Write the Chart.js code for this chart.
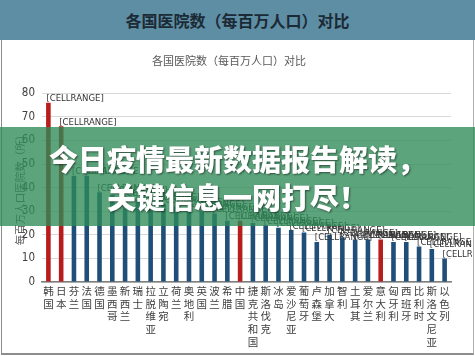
<!DOCTYPE html>
<html>
<head>
<meta charset="utf-8">
<script src="https://cdn.jsdelivr.net/npm/chart.js@4/dist/chart.umd.min.js"></script>
<style>
  html, body { margin: 0; padding: 0; background: #ffffff; }
  body { width: 475px; height: 356px; position: relative; overflow: hidden; }
  #header {
    position: absolute; left: 0; top: 0; width: 475px; height: 40px;
    background: #5e8ea4; color: #1b2a35;
    font: bold 16px "Noto Sans CJK SC", sans-serif;
    text-align: center; line-height: 40px;
  }
  #frame {
    position: absolute; left: 1px; top: 40px; width: 471px; height: 313px;
    border-left: 1px solid #8c8c8c; border-right: 1px solid #b0b0b0; border-bottom: 2px solid #8c8c8c;
  }
  #wrap { position: absolute; left: 3px; top: 40px; width: 469px; height: 312px; }
  #banner {
    position: absolute; left: 0; top: 127px; width: 475px; height: 99px;
    background: rgba(46, 139, 87, 0.78);
    color: #ffffff; text-align: center;
    font: 900 29px "Noto Sans CJK SC", sans-serif;
    line-height: 38px; padding-top: 12px; box-sizing: border-box;
    text-shadow: 1px 1px 2px rgba(0,0,0,0.5);
  }
</style>
</head>
<body>
<div id="header">各国医院数（每百万人口）对比</div>
<div id="frame"></div>
<div id="wrap"><canvas id="c" width="469" height="312"></canvas></div>
<div id="banner">今日疫情最新数据报告解读，<br>关键信息一网打尽！</div>
<script>
const chartTitle = '各国医院数（每百万人口）对比';
const yAxisTitle = '每百万人口医院数（所）';
const dataLabelText = '[CELLRANGE]';
const countries = ['韩国','日本','芬兰','法国','德国','墨西哥','新西兰','瑞士','拉脱维亚','立陶宛','荷兰','奥地利','英国','波兰','希腊','中国','捷克共和国','斯洛伐克','冰岛','爱沙尼亚','葡萄牙','卢森堡','加拿大','智利','土耳其','爱尔兰','意大利','匈牙利','西班牙','比利时','斯洛文尼亚','以色列'];
const hospitals = [76,66,45,45,38,37,36,35,34,33,32,31,30,29,26,26,25,24,23,22,21,17,20,19,18,18,18,17,17,15,14,10];
const highlighted = ['韩国','日本','中国','意大利'];
const yTicks = [0,10,20,30,40,50,60,70,80];

const narrow = "'Liberation Sans Narrow', 'DejaVu Sans Condensed', 'Liberation Sans', sans-serif";

const labelPlugin = {
  id: 'cellrange',
  afterDatasetsDraw(chart) {
    const ctx = chart.ctx;
    const meta = chart.getDatasetMeta(0);
    ctx.save();
    ctx.font = '9.5px ' + narrow;
    ctx.fillStyle = '#333333';
    ctx.textAlign = 'left';
    ctx.textBaseline = 'middle';
    meta.data.forEach(bar => {
      ctx.fillText(dataLabelText, bar.x - 2, bar.y - 4);
    });
    ctx.restore();
  }
};

new Chart(document.getElementById('c'), {
  type: 'bar',
  data: {
    labels: countries.map(n => n.split('')),
    datasets: [{
      data: hospitals,
      backgroundColor: countries.map(n => highlighted.includes(n) ? '#b81d1d' : '#1f4e79'),
      barPercentage: 0.36,
      categoryPercentage: 1.0
    }]
  },
  options: {
    responsive: false,
    animation: false,
    layout: { padding: { left: 4, right: 21, top: 0, bottom: 1 } },
    plugins: {
      legend: { display: false },
      tooltip: { enabled: false },
      title: {
        display: true, text: chartTitle, color: '#595959',
        font: { family: "'Noto Sans CJK SC', sans-serif", size: 11, weight: 'normal' },
        padding: { top: 14, bottom: 26 }
      }
    },
    scales: {
      x: {
        grid: { display: false, drawTicks: false },
        border: { display: true, color: '#7f7f7f', width: 1.5 },
        ticks: {
          autoSkip: false, maxRotation: 0, minRotation: 0, padding: 3,
          color: '#404040',
          font: { family: "'Noto Sans CJK SC', sans-serif", size: 10.5, lineHeight: 1.2 }
        }
      },
      y: {
        min: 0, max: 80,
        afterBuildTicks(axis) { axis.ticks = yTicks.map(v => ({ value: v })); },
        afterFit(scale) { scale.width = 35; },
        grid: { color: '#d9d9d9', drawTicks: false },
        border: { display: false },
        ticks: { padding: 7, color: '#404040', font: { family: narrow, size: 11.5 } },
        title: {
          display: true, text: yAxisTitle, color: '#595959',
          font: { family: "'Noto Sans CJK SC', sans-serif", size: 10.5 },
          padding: { top: 7, bottom: 2 }
        }
      }
    }
  },
  plugins: [labelPlugin]
});
</script>
</body>
</html>
